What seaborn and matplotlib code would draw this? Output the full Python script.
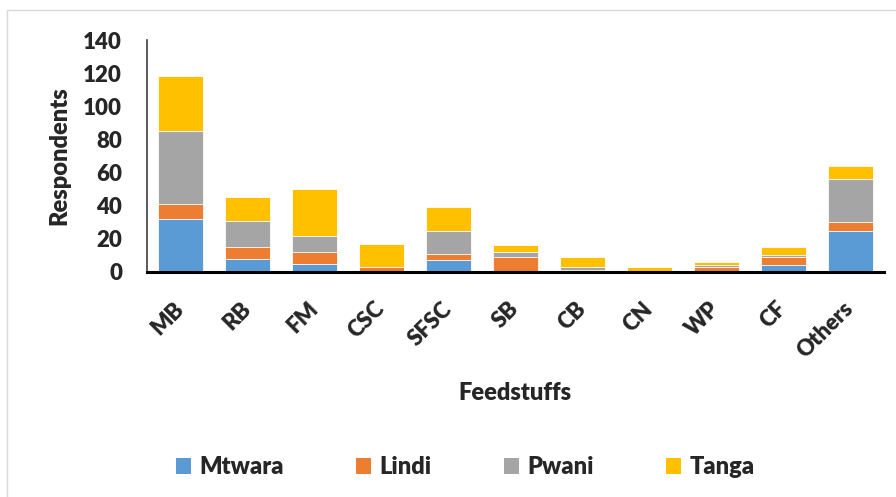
import matplotlib
matplotlib.use("Agg")
import matplotlib.pyplot as plt
from matplotlib.patches import Patch, Rectangle
import numpy as np
import pandas as pd
import seaborn as sns

feedstuffs = ["MB", "RB", "FM", "CSC", "SFSC", "SB", "CB", "CN", "WP", "CF", "Others"]
mtwara = [32, 8, 5, 0, 7, 0, 0, 0, 0, 4, 25]
lindi = [9, 7, 7, 3, 4, 9, 1, 0, 3, 5, 5]
pwani = [44, 16, 10, 0, 14, 3, 2, 0, 1, 1, 26]
tanga = [33, 14, 28, 14, 14, 4, 6, 3, 2, 5, 8]

regions = ["Mtwara", "Lindi", "Pwani", "Tanga"]
colors = ["#5B9BD5", "#ED7D31", "#A5A5A5", "#FFC000"]

sns.set_style("white")
plt.rcParams["font.family"] = ["Lato", "DejaVu Sans"]
W = "heavy"

df = pd.DataFrame({"Feedstuff": feedstuffs, "Mtwara": mtwara, "Lindi": lindi,
                   "Pwani": pwani, "Tanga": tanga})
cum = df[regions].cumsum(axis=1)

fig = plt.figure(figsize=(8.96, 4.97), dpi=100)
ax = fig.add_axes([147 / 896, 1 - 272 / 497, (884 - 147) / 896, (272 - 40) / 497])

# stacked bars: draw cumulative totals from the top series down
for reg, col in zip(regions[::-1], colors[::-1]):
    sns.barplot(x=df["Feedstuff"], y=cum[reg], color=col, width=0.67,
                edgecolor="white", linewidth=0.6, saturation=1, ax=ax)

ax.set_ylim(0, 140)
ax.set_xlim(-0.5, 10.5)
ax.set_yticks(range(0, 141, 20))
ax.tick_params(axis="y", length=0, pad=18, labelsize=16)
ax.tick_params(axis="x", length=0, pad=24, labelsize=16)
for lab in ax.get_xticklabels():
    lab.set_rotation(45)
    lab.set_ha("right")
    lab.set_va("center")
    lab.set_rotation_mode("anchor")
for lab in ax.get_xticklabels() + ax.get_yticklabels():
    lab.set_fontweight(W)

ax.set_xlabel("")
ax.set_ylabel("Respondents", fontsize=17, fontweight=W)
ax.yaxis.set_label_coords((59 - 147) / 737, 0.5)
ax.yaxis.label.set_va("center")
fig.text(515 / 896, 1 - 393 / 497, "Feedstuffs", fontsize=17, fontweight=W,
         ha="center", va="center")

sns.despine(ax=ax, top=True, right=True)
ax.spines["left"].set_color("#404040")
ax.spines["left"].set_linewidth(1.2)
ax.spines["bottom"].set_color("black")
ax.spines["bottom"].set_linewidth(2.2)

handles = [Patch(facecolor=c, edgecolor="none") for c in colors]
fig.legend(handles, regions, loc="center", bbox_to_anchor=(465 / 896, 1 - 467 / 497),
           ncol=4, frameon=False, handlelength=0.65, handleheight=0.65,
           handletextpad=0.35, columnspacing=3.05, prop={"weight": W, "size": 17})

fig.patches.append(Rectangle((7 / 896, -0.1), 1.2, 1.1 - 10 / 497,
                             transform=fig.transFigure, fill=False,
                             edgecolor="#D9D9D9", linewidth=1))

fig.savefig("out.png", dpi=100)
